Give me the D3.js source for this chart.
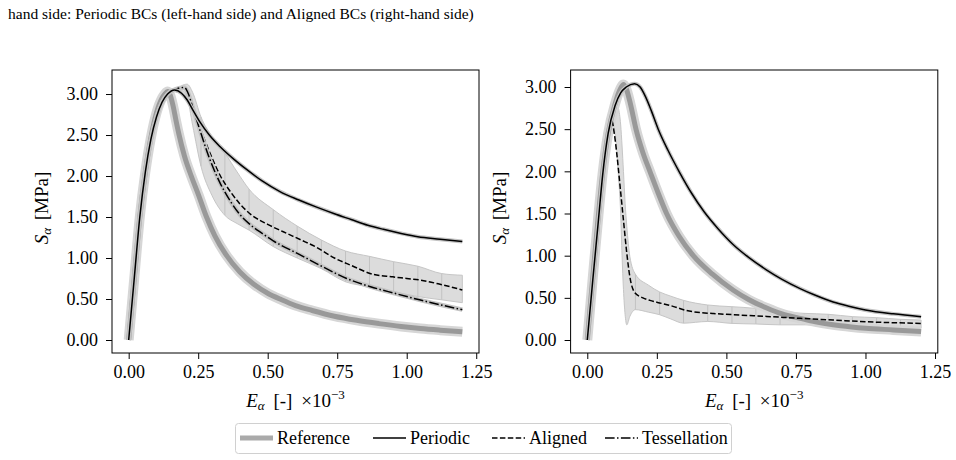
<!DOCTYPE html>
<html>
<head>
<meta charset="utf-8">
<script src="https://cdn.jsdelivr.net/npm/d3@7"></script>
<style>
  body { margin: 0; background: #fff; }
  svg { display: block; font-family: "Liberation Serif", "Times New Roman", serif; }
</style>
</head>
<body>
<svg id="chart" width="956" height="460"></svg>
<script>
// tick values shared by both panels
const xTicks = [0, 0.25, 0.5, 0.75, 1.0, 1.25];
const yTicks = [0, 0.5, 1.0, 1.5, 2.0, 2.5, 3.0];

// ---- left panel: periodic BCs ----  [E (x1e-3), S (MPa)]
const refLeft = [[0,0],[0.02,0.75],[0.04,1.5],[0.06,2.05],[0.08,2.47],[0.10,2.77],[0.12,2.95],[0.13,3.0],[0.14,3.03],[0.15,2.98],[0.16,2.85],[0.17,2.68],[0.18,2.52],[0.20,2.25],[0.225,2.0],[0.25,1.78],[0.28,1.5],[0.31,1.27],[0.35,1.04],[0.40,0.83],[0.45,0.68],[0.50,0.57],[0.55,0.49],[0.60,0.42],[0.66,0.36],[0.74,0.29],[0.82,0.24],[0.90,0.20],[0.98,0.165],[1.05,0.14],[1.12,0.12],[1.20,0.10]];
const perLeft = [[0,0],[0.02,0.75],[0.04,1.5],[0.06,2.05],[0.08,2.45],[0.10,2.72],[0.12,2.9],[0.14,3.0],[0.165,3.05],[0.19,3.01],[0.21,2.93],[0.23,2.81],[0.256,2.66],[0.29,2.5],[0.328,2.36],[0.38,2.2],[0.424,2.08],[0.48,1.94],[0.544,1.81],[0.61,1.71],[0.676,1.62],[0.74,1.54],[0.8,1.47],[0.86,1.40],[0.916,1.35],[0.98,1.30],[1.04,1.26],[1.12,1.23],[1.2,1.2]];
const aliLeft = [[0,0],[0.02,0.75],[0.04,1.5],[0.06,2.05],[0.08,2.45],[0.10,2.72],[0.12,2.9],[0.14,3.0],[0.17,3.07],[0.2,3.09],[0.215,3.02],[0.23,2.87],[0.245,2.71],[0.26,2.56],[0.29,2.3],[0.33,2.0],[0.37,1.79],[0.4,1.66],[0.44,1.53],[0.5,1.41],[0.556,1.32],[0.62,1.22],[0.676,1.13],[0.74,1.0],[0.8,0.91],[0.88,0.8],[0.95,0.77],[1.0,0.75],[1.05,0.73],[1.12,0.68],[1.2,0.61]];
const tesLeft = [[0,0],[0.02,0.75],[0.04,1.5],[0.06,2.05],[0.08,2.45],[0.10,2.72],[0.12,2.9],[0.14,3.0],[0.17,3.06],[0.2,3.08],[0.215,3.0],[0.23,2.84],[0.245,2.68],[0.26,2.52],[0.29,2.22],[0.328,1.92],[0.37,1.67],[0.4,1.53],[0.436,1.41],[0.48,1.3],[0.52,1.21],[0.61,1.05],[0.694,0.9],[0.784,0.75],[0.87,0.65],[0.956,0.57],[1.046,0.49],[1.133,0.42],[1.2,0.37]];
// scatter band of the aligned runs
const bandLeftE  = [0.17, 0.19, 0.21, 0.23, 0.26, 0.30, 0.346, 0.39, 0.433, 0.52, 0.606, 0.693, 0.78, 0.866, 0.953, 1.04, 1.126, 1.2];
const bandLeftHi = [3.04, 3.1, 3.12, 3.02, 2.72, 2.48, 2.28, 2.05, 1.84, 1.59, 1.39, 1.22, 1.085, 1.02, 0.955, 0.9, 0.81, 0.79];
const bandLeftLo = [3.02, 3.04, 2.96, 2.62, 2.12, 1.76, 1.52, 1.42, 1.34, 1.14, 1.0, 0.87, 0.71, 0.65, 0.59, 0.53, 0.49, 0.455];

// ---- right panel: aligned BCs ----
const refRight = [[0,0],[0.02,0.75],[0.04,1.48],[0.055,1.97],[0.075,2.45],[0.1,2.8],[0.115,2.95],[0.13,3.03],[0.14,2.98],[0.155,2.8],[0.175,2.5],[0.2,2.22],[0.225,2.0],[0.255,1.74],[0.285,1.5],[0.33,1.23],[0.381,1.0],[0.45,0.78],[0.525,0.59],[0.58,0.48],[0.645,0.38],[0.7,0.31],[0.765,0.257],[0.82,0.215],[0.884,0.18],[0.95,0.155],[1.0,0.14],[1.1,0.12],[1.2,0.10]];
const perRight = [[0,0],[0.02,0.72],[0.04,1.42],[0.055,1.95],[0.075,2.45],[0.1,2.78],[0.12,2.93],[0.14,3.0],[0.17,3.04],[0.19,3.0],[0.21,2.88],[0.23,2.72],[0.255,2.5],[0.29,2.25],[0.333,1.98],[0.375,1.74],[0.42,1.52],[0.47,1.32],[0.525,1.13],[0.58,0.98],[0.645,0.83],[0.7,0.72],[0.765,0.61],[0.82,0.53],[0.884,0.45],[0.94,0.4],[1.0,0.356],[1.1,0.31],[1.2,0.277]];
const aliRight = [[0,0],[0.02,0.72],[0.04,1.42],[0.055,1.95],[0.075,2.45],[0.088,2.6],[0.097,2.45],[0.106,2.21],[0.118,1.82],[0.13,1.42],[0.142,1.03],[0.153,0.75],[0.171,0.56],[0.2,0.5],[0.225,0.47],[0.26,0.44],[0.297,0.41],[0.357,0.35],[0.405,0.325],[0.45,0.315],[0.525,0.30],[0.645,0.28],[0.765,0.257],[0.884,0.237],[1.0,0.217],[1.2,0.197]];
const bandRightE  = [0.07, 0.085, 0.1, 0.112, 0.12, 0.125, 0.13, 0.136, 0.142, 0.153, 0.173, 0.22, 0.26, 0.30, 0.346, 0.433, 0.52, 0.606, 0.693, 0.78, 0.866, 0.953, 1.04, 1.126, 1.2];
const bandRightHi = [2.3, 2.7, 2.85, 2.75, 2.55, 2.3, 2.0, 1.62, 1.35, 0.99, 0.78, 0.65, 0.57, 0.52, 0.47, 0.415, 0.395, 0.375, 0.336, 0.316, 0.305, 0.277, 0.265, 0.245, 0.237];
const bandRightLo = [2.3, 2.6, 2.45, 1.95, 1.5, 1.0, 0.6, 0.3, 0.18, 0.28, 0.36, 0.33, 0.30, 0.25, 0.20, 0.22, 0.197, 0.19, 0.18, 0.18, 0.18, 0.17, 0.16, 0.15, 0.14];

// e-values where the band pieces join (drawn as thin separators)
const bandJoins = [0.173, 0.26, 0.346, 0.433, 0.52, 0.606, 0.693, 0.78, 0.866, 0.953, 1.04, 1.126];

const legendNames = ["Reference", "Periodic", "Aligned", "Tessellation"];

const svg = d3.select("#chart");

// caption fragment at top
svg.append("text")
  .attr("x", 8).attr("y", 19)
  .attr("font-size", 15.5)
  .text("hand side: Periodic BCs (left-hand side) and Aligned BCs (right-hand side)");

const styles = {
  ref:  {color: "#999999", width: 5,   dash: null,              halo: "#d6d6d6", haloW: 10},
  per:  {color: "#000000", width: 1.5, dash: null,              halo: "#c4c4c4", haloW: 4},
  ali:  {color: "#000000", width: 1.5, dash: "5.5,2.4",         halo: null,      haloW: 0},
  tes:  {color: "#000000", width: 1.5, dash: "9.6,2.4,1.5,2.4", halo: "#c4c4c4", haloW: 4.5}
};

function drawPanel(p) {
  const x = d3.scaleLinear().domain([-0.06, 1.26]).range([p.left, p.right]);
  const y = d3.scaleLinear().domain(p.yDomain).range([p.bottom, p.top]);
  const g = svg.append("g");

  // band of aligned runs
  const band = p.bandE.map((e, i) => ({e: e, lo: p.bandLo[i], hi: p.bandHi[i]}));
  g.append("path")
    .datum(band)
    .attr("d", d3.area().x(d => x(d.e)).y0(d => y(d.lo)).y1(d => y(d.hi)).curve(d3.curveMonotoneX))
    .attr("fill", "#dcdcdc")
    .attr("stroke", "#c6c6c6")
    .attr("stroke-width", 1);
  g.selectAll(".join")
    .data(band.filter(d => bandJoins.some(j => Math.abs(j - d.e) < 0.002)))
    .enter()
    .append("line")
    .attr("x1", d => x(d.e)).attr("x2", d => x(d.e))
    .attr("y1", d => y(d.lo)).attr("y2", d => y(d.hi))
    .attr("stroke", "#c2c2c2")
    .attr("stroke-width", 1);

  const line = d3.line().x(d => x(d[0])).y(d => y(d[1])).curve(d3.curveMonotoneX);

  p.series.forEach(s => {
    const st = styles[s.key];
    if (st.halo) {
      g.append("path").datum(s.data).attr("d", line)
        .attr("fill", "none").attr("stroke", st.halo)
        .attr("stroke-width", st.haloW).attr("stroke-linejoin", "round");
    }
    g.append("path").datum(s.data).attr("d", line)
      .attr("fill", "none").attr("stroke", st.color)
      .attr("stroke-width", st.width)
      .attr("stroke-dasharray", st.dash)
      .attr("stroke-linejoin", "round");
  });

  // frame
  g.append("rect")
    .attr("x", p.left).attr("y", p.top)
    .attr("width", p.right - p.left).attr("height", p.bottom - p.top)
    .attr("fill", "none").attr("stroke", "#000").attr("stroke-width", 1);

  // axes
  const xa = g.append("g")
    .attr("transform", "translate(0," + p.bottom + ")")
    .call(d3.axisBottom(x).tickValues(xTicks).tickFormat(d3.format(".2f"))
      .tickSize(6).tickPadding(6).tickSizeOuter(0));
  const ya = g.append("g")
    .attr("transform", "translate(" + p.left + ",0)")
    .call(d3.axisLeft(y).tickValues(yTicks).tickFormat(d3.format(".2f"))
      .tickSize(6).tickPadding(8).tickSizeOuter(0));
  [xa, ya].forEach(a => {
    a.select(".domain").remove();
    a.selectAll("text").attr("font-size", 18).attr("fill", "#000")
      .attr("font-family", "Liberation Serif");
    a.selectAll("line").attr("stroke", "#000");
  });

  // y label
  const yl = g.append("text")
    .attr("transform", "translate(" + p.ylabelX + ",208) rotate(-90)")
    .attr("text-anchor", "middle")
    .attr("font-size", 19)
    .attr("word-spacing", 3);
  yl.append("tspan").attr("font-style", "italic").text("S");
  yl.append("tspan").attr("font-style", "italic").attr("font-size", 13).attr("dy", 3).text("α");
  yl.append("tspan").attr("dy", -3).text(" [MPa]");

  // x label
  const xl = g.append("text")
    .attr("x", (p.left + p.right) / 2).attr("y", 407)
    .attr("text-anchor", "middle")
    .attr("font-size", 19)
    .attr("word-spacing", 4);
  xl.append("tspan").attr("font-style", "italic").text("E");
  xl.append("tspan").attr("font-style", "italic").attr("font-size", 13).attr("dy", 3).text("α");
  xl.append("tspan").attr("dy", -3).text(" [-] ×10");
  xl.append("tspan").attr("font-size", 13).attr("dy", -8).text("−3");
}

drawPanel({
  left: 112, right: 479, top: 70, bottom: 353,
  yDomain: [-0.1585, 3.293], ylabelX: 48,
  bandE: bandLeftE, bandLo: bandLeftLo, bandHi: bandLeftHi,
  series: [
    {key: "ref", data: refLeft},
    {key: "ali", data: aliLeft},
    {key: "tes", data: tesLeft},
    {key: "per", data: perLeft}
  ]
});

drawPanel({
  left: 570.6, right: 937.8, top: 70, bottom: 353,
  yDomain: [-0.154, 3.2016], ylabelX: 506,
  bandE: bandRightE, bandLo: bandRightLo, bandHi: bandRightHi,
  series: [
    {key: "ref", data: refRight},
    {key: "ali", data: aliRight},
    {key: "per", data: perRight}
  ]
});

// legend
const lg = svg.append("g");
lg.append("rect")
  .attr("x", 235.5).attr("y", 423.5).attr("width", 496).attr("height", 30)
  .attr("rx", 3).attr("fill", "#fff").attr("stroke", "#d0d0d0").attr("stroke-width", 1);
const legendKeys = ["ref", "per", "ali", "tes"];
const legendX = [240, 373, 492, 605];
legendNames.forEach((name, i) => {
  const st = styles[legendKeys[i]];
  lg.append("line")
    .attr("x1", legendX[i]).attr("x2", legendX[i] + 33)
    .attr("y1", 438).attr("y2", 438)
    .attr("stroke", legendKeys[i] === "ref" ? "#aaaaaa" : st.color)
    .attr("stroke-width", st.width)
    .attr("stroke-dasharray", st.dash);
  lg.append("text")
    .attr("x", legendX[i] + 37).attr("y", 444)
    .attr("font-size", 18)
    .text(name);
});
</script>
</body>
</html>
